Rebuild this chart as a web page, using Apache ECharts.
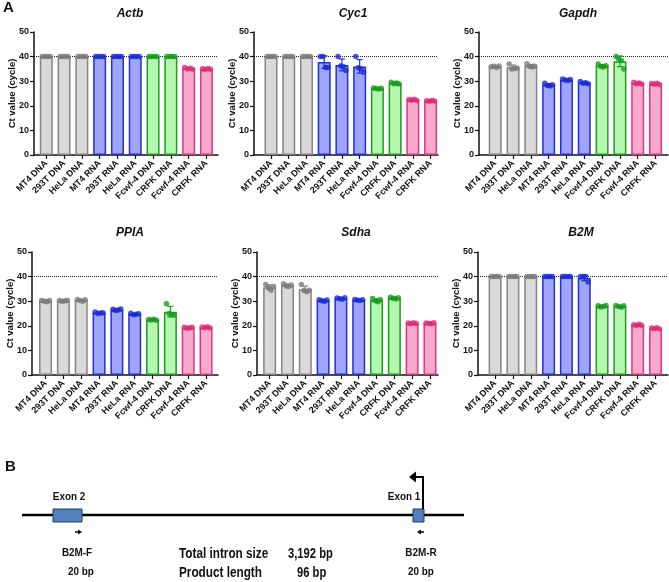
<!DOCTYPE html>
<html>
<head>
<meta charset="utf-8">
<title>Ct values</title>
<script src="https://cdn.jsdelivr.net/npm/echarts@6/dist/echarts.min.js"></script>
<style>
  html, body { margin: 0; padding: 0; background: #fff; }
  #chart { width: 669px; height: 582px; }
</style>
</head>
<body>
<div id="chart"></div>
<script>
// sample names on the x axis
const categories = ['MT4 DNA', '293T DNA', 'HeLa DNA', 'MT4 RNA', '293T RNA', 'HeLa RNA',
  'Fcwf-4 DNA', 'CRFK DNA', 'Fcwf-4 RNA', 'CRFK RNA'];
const genes = ['Actb', 'Cyc1', 'Gapdh', 'PPIA', 'Sdha', 'B2M'];
const yTicks = [0, 10, 20, 30, 40, 50];
const cutoff = 40;

// replicate Ct values (4 per sample), 40 = undetermined
const actb = [
  [40, 40, 40, 40], [40, 40, 40, 40], [40, 40, 40, 40], [40, 40, 40, 40], [40, 40, 40, 40],
  [40, 40, 40, 40], [40, 40, 40, 40], [40, 40, 40, 40], [35.6, 35.0, 35.3, 34.9], [35.1, 34.8, 35.2, 34.9]
];
const cyc1 = [
  [40, 40, 40, 40], [40, 40, 40, 40], [40, 40, 40, 40], [40, 40, 35.6, 35.6], [40, 36.2, 36.0, 34.3],
  [40, 35.5, 35.0, 33.6], [27.2, 27.0, 26.8, 27.1], [29.6, 29.0, 29.3, 28.9], [22.6, 22.3, 22.7, 22.2], [22.1, 21.9, 22.2, 22.0]
];
const gapdh = [
  [35.9, 36.1, 35.6, 36.2], [37.0, 35.0, 35.2, 35.4], [37.1, 36.0, 35.8, 36.1], [29.2, 28.3, 28.0, 28.6], [30.9, 30.5, 30.3, 30.7],
  [29.9, 29.2, 29.4, 29.0], [37.0, 36.0, 35.8, 36.3], [40.0, 39.0, 38.4, 35.0], [29.6, 29.0, 29.3, 28.9], [29.1, 28.8, 29.2, 28.7]
];
const ppia = [
  [30.3, 30.0, 29.8, 30.3], [30.3, 30.0, 30.1, 30.4], [30.7, 30.3, 30.0, 30.6], [25.6, 25.0, 25.2, 25.3], [26.7, 26.2, 26.4, 26.8],
  [25.1, 24.5, 24.7, 24.9], [22.6, 22.4, 22.7, 22.3], [29.0, 25.0, 24.6, 24.4], [19.4, 19.0, 19.2, 19.4], [19.5, 19.2, 19.6, 19.1]
];
const sdha = [
  [36.8, 35.5, 34.5, 36.0], [37.1, 36.2, 36.0, 36.6], [36.8, 34.5, 33.8, 34.5], [30.6, 30.2, 30.0, 30.5], [31.3, 31.0, 30.8, 31.4],
  [30.7, 30.4, 30.3, 30.6], [31.1, 30.2, 29.8, 30.6], [31.6, 31.2, 30.9, 31.4], [21.1, 20.8, 21.2, 20.9], [21.1, 20.9, 20.8, 21.2]
];
const b2m = [
  [40, 40, 40, 40], [40, 40, 40, 40], [40, 40, 40, 40], [40, 40, 40, 40], [40, 40, 40, 40],
  [40, 40, 40, 37.8], [28.1, 27.6, 27.8, 28.3], [28.3, 27.8, 27.5, 28.1], [20.4, 20.1, 20.6, 20.2], [19.1, 18.8, 19.2, 18.7]
];
const geneData = [actb, cyc1, gapdh, ppia, sdha, b2m];

// colour group of each sample: grey DNA, blue RNA, green cat DNA, pink cat RNA
const groupOf = [0, 0, 0, 1, 1, 1, 2, 2, 3, 3];
const fills = ['#d9d9d9', '#9fa5fb', '#b4f7ae', '#f9aacc'];
const borders = ['#858585', '#1f30dc', '#1f9b22', '#df3580'];
const dots = ['#7a7a7a', '#1a2ad2', '#169a1c', '#dc2a78'];
const jitter = [-0.22, -0.07, 0.08, 0.22];

// where each small chart sits
const panels = [
  { left: 34, top: 32, width: 184, min: -0.69, max: 9.65, tx: 125, ty: 3 },
  { left: 254, top: 32, width: 184, min: -0.96, max: 9.42, tx: 348, ty: 3 },
  { left: 479, top: 32, width: 189, min: -0.91, max: 9.7, tx: 573, ty: 3 },
  { left: 32, top: 252, width: 186, min: -0.76, max: 9.67, tx: 125, ty: 222 },
  { left: 257, top: 252, width: 181, min: -0.71, max: 9.45, tx: 351, ty: 222 },
  { left: 478, top: 252, width: 190, min: -0.96, max: 9.7, tx: 576, ty: 222 }
];

const font = 'Liberation Sans, Arial, Helvetica, sans-serif';

function mean(a) { return a.reduce((s, v) => s + v, 0) / a.length; }
function sd(a) {
  const m = mean(a);
  return Math.sqrt(a.reduce((s, v) => s + (v - m) * (v - m), 0) / (a.length - 1));
}

function renderErr(params, api) {
  const x = api.value(0), m = api.value(1), s = api.value(2);
  const c = borders[api.value(3)];
  const top = api.coord([x, m + s]);
  const bot = api.coord([x, m - s]);
  const st = { stroke: c, lineWidth: 1.2 };
  return {
    type: 'group',
    children: [
      { type: 'line', shape: { x1: top[0], y1: top[1], x2: bot[0], y2: bot[1] }, style: st },
      { type: 'line', shape: { x1: top[0] - 3, y1: top[1], x2: top[0] + 3, y2: top[1] }, style: st },
      { type: 'line', shape: { x1: bot[0] - 3, y1: bot[1], x2: bot[0] + 3, y2: bot[1] }, style: st }
    ]
  };
}

const grid = [], xAxis = [], yAxis = [], series = [], title = [];
const catIdx = categories.map((c, i) => i);

panels.forEach((p, gi) => {
  const reps = geneData[gi];
  grid.push({ left: p.left, top: p.top, width: p.width, height: 123, outerBoundsMode: 'none' });
  title.push({
    text: genes[gi], left: p.tx, top: p.ty, textAlign: 'center',
    textStyle: { fontFamily: font, fontSize: 12, fontWeight: 'bold', fontStyle: 'italic', color: '#111' }
  });
  xAxis.push({
    type: 'value', gridIndex: gi, min: p.min, max: p.max,
    splitLine: { show: false },
    axisLine: { show: true, onZero: false, lineStyle: { color: '#111', width: 1.5 } },
    axisTick: { show: true, customValues: catIdx, length: 4, lineStyle: { color: '#111', width: 1.2 } },
    axisLabel: {
      customValues: catIdx, rotate: 45, margin: 7,
      formatter: v => categories[Math.round(v)],
      fontFamily: font, fontSize: 9, fontWeight: 'bold', color: '#111'
    }
  });
  yAxis.push({
    type: 'value', gridIndex: gi, min: 0, max: 50, interval: 10,
    name: 'Ct value (cycle)', nameLocation: 'middle', nameGap: 17, nameMoveOverlap: false,
    nameTextStyle: { fontFamily: font, fontSize: 9.5, fontWeight: 'bold', color: '#111' },
    splitLine: { show: false },
    axisLine: { show: true, onZero: false, lineStyle: { color: '#111', width: 1.5 } },
    axisTick: { show: true, length: 4, lineStyle: { color: '#111', width: 1.2 } },
    axisLabel: {
      margin: 5, fontFamily: font, fontSize: 9, fontWeight: 'bold', color: '#111',
      formatter: v => (yTicks.indexOf(v) >= 0 ? String(v) : '')
    }
  });

  series.push({
    type: 'bar', xAxisIndex: gi, yAxisIndex: gi, barWidth: 13, z: 2,
    data: reps.map((r, i) => ({
      value: [i, mean(r)],
      itemStyle: { color: fills[groupOf[i]], borderColor: borders[groupOf[i]], borderWidth: 1.5 }
    })),
    markLine: {
      silent: true, symbol: ['none', 'none'], label: { show: false }, z: 1,
      lineStyle: { type: 'dotted', color: '#222', width: 1 },
      data: [{ yAxis: cutoff }]
    }
  });
  series.push({
    type: 'custom', xAxisIndex: gi, yAxisIndex: gi, z: 3,
    renderItem: renderErr,
    data: reps.map((r, i) => [i, mean(r), sd(r), groupOf[i]])
  });
  const pts = [];
  reps.forEach((r, i) => r.forEach((v, k) => pts.push({
    value: [i + jitter[k], v], itemStyle: { color: dots[groupOf[i]] }
  })));
  series.push({
    type: 'scatter', xAxisIndex: gi, yAxisIndex: gi, z: 4,
    symbolSize: 5.5, data: pts
  });
});

// panel B: B2M gene diagram
const txt = (x, y, s, size, align, sx) => ({
  type: 'text', x: x, y: y, scaleX: sx || 1,
  style: {
    text: s, fontFamily: font, fontSize: size, fontWeight: 'bold', fill: '#111',
    align: align || 'center', verticalAlign: 'middle'
  }
});
const graphic = [
  txt(3, 8, 'A', 15, 'left'),
  txt(5, 467, 'B', 15, 'left'),
  { type: 'line', shape: { x1: 22, y1: 515, x2: 464, y2: 515 }, style: { stroke: '#000', lineWidth: 2.5 } },
  { type: 'rect', shape: { x: 53, y: 509, width: 29, height: 13 }, style: { fill: '#4f81bd', stroke: '#243f66', lineWidth: 1 } },
  { type: 'rect', shape: { x: 413, y: 509, width: 11, height: 13 }, style: { fill: '#4f81bd', stroke: '#243f66', lineWidth: 1 } },
  { type: 'polyline', shape: { points: [[423, 509], [423, 477], [414, 477]] }, style: { stroke: '#000', lineWidth: 2, fill: null } },
  { type: 'polygon', shape: { points: [[409, 477], [416, 471.5], [416, 482.5]] }, style: { fill: '#000' } },
  { type: 'line', shape: { x1: 75, y1: 532, x2: 79, y2: 532 }, style: { stroke: '#000', lineWidth: 1.5 } },
  { type: 'polygon', shape: { points: [[82, 532], [78, 529.5], [78, 534.5]] }, style: { fill: '#000' } },
  { type: 'line', shape: { x1: 420, y1: 532, x2: 424, y2: 532 }, style: { stroke: '#000', lineWidth: 1.5 } },
  { type: 'polygon', shape: { points: [[417, 532], [421, 529.5], [421, 534.5]] }, style: { fill: '#000' } },
  txt(69, 497, 'Exon 2', 11.5, 'center', 0.86),
  txt(404, 497, 'Exon 1', 11.5, 'center', 0.86),
  txt(77, 553, 'B2M-F', 11.5, 'center', 0.86),
  txt(81, 572, '20 bp', 11.5, 'center', 0.86),
  txt(421, 553, 'B2M-R', 11.5, 'center', 0.86),
  txt(421, 572, '20 bp', 11.5, 'center', 0.86),
  txt(179, 554, 'Total intron size', 14, 'left', 0.84),
  txt(288, 554, '3,192 bp', 14, 'left', 0.8),
  txt(179, 573, 'Product length', 14, 'left', 0.84),
  txt(297, 573, '96 bp', 14, 'left', 0.8)
];

const chart = echarts.init(document.getElementById('chart'), null, { renderer: 'canvas' });
chart.setOption({
  animation: false,
  backgroundColor: '#fff',
  title: title,
  grid: grid,
  xAxis: xAxis,
  yAxis: yAxis,
  series: series,
  graphic: graphic
});
</script>
</body>
</html>
